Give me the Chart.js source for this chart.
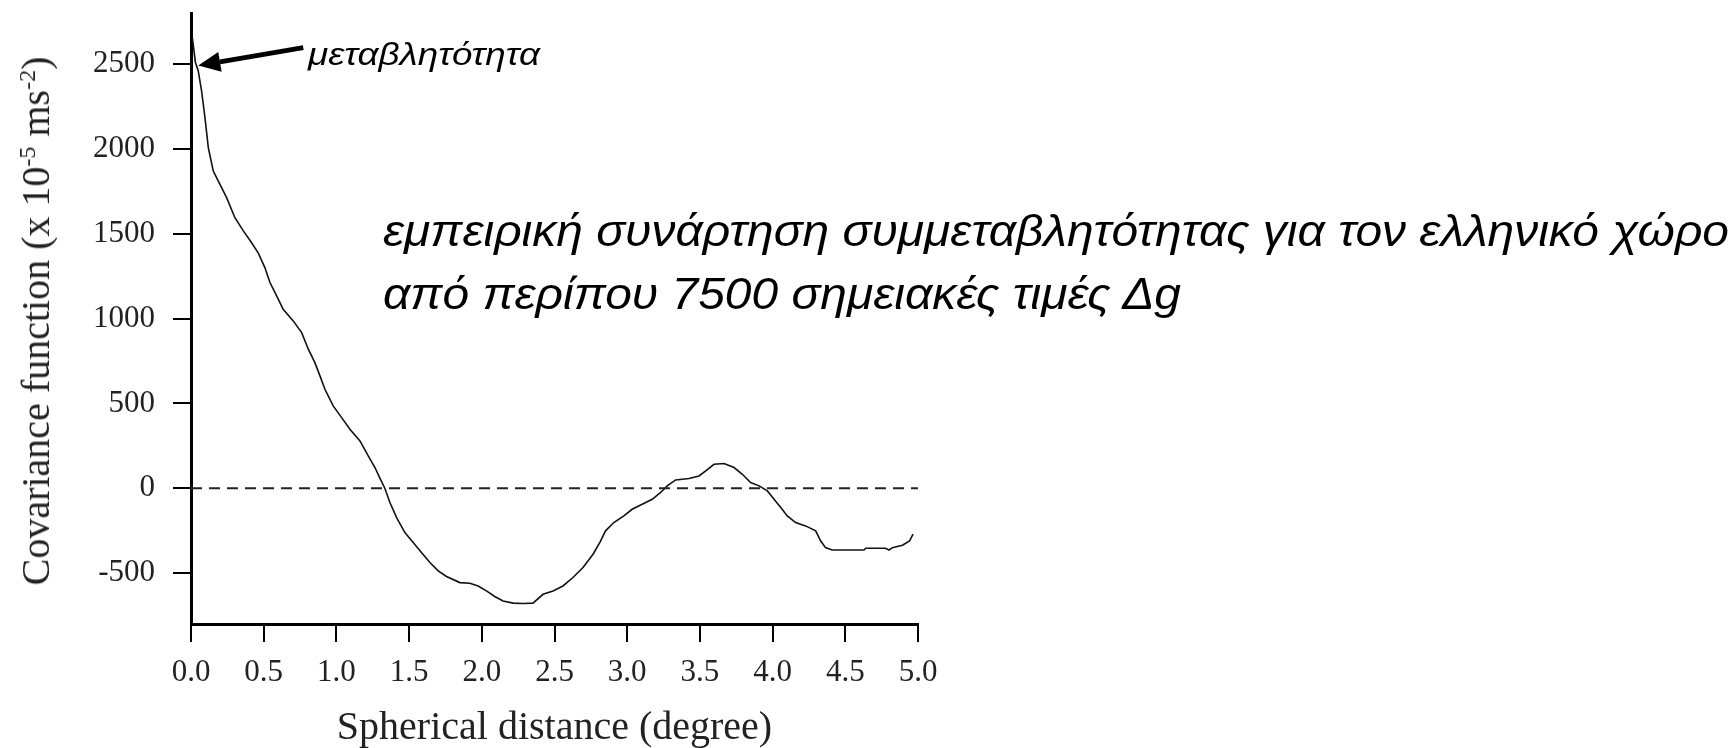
<!DOCTYPE html>
<html><head><meta charset="utf-8">
<script src="https://cdn.jsdelivr.net/npm/chart.js@4.4.1/dist/chart.umd.min.js"></script>
<style>
html,body{margin:0;padding:0;background:#fff;}
#wrap{position:relative;width:1735px;height:748px;overflow:hidden;background:#fff;}
#c{position:absolute;left:0;top:0;}
.ann{position:absolute;white-space:nowrap;font-family:'Liberation Sans',Arial,sans-serif;font-style:italic;color:#000;transform-origin:0 0;}
#ytitle{position:absolute;left:36px;top:321px;white-space:nowrap;font-family:'Liberation Serif','Times New Roman',serif;font-size:40px;line-height:1;color:#222;transform:translate(-50%,-50%) rotate(-90deg);}
#ytitle sup{font-size:24px;vertical-align:14px;line-height:0;}
</style></head>
<body>
<div id="wrap">
<canvas id="c" width="1735" height="748"></canvas>
<div id="ytitle">Covariance function (x 10<sup>-5</sup> ms<sup>-2</sup>)</div>
<div id="a1" class="ann" style="left:308px;top:38px;font-size:32px;line-height:32px;">μεταβλητότητα</div>
<div id="a2" class="ann" style="left:383px;top:199px;font-size:45px;line-height:63px;">εμπειρική συνάρτηση συμμεταβλητότητας για τον ελληνικό χώρο</div>
<div id="a3" class="ann" style="left:383px;top:262px;font-size:45px;line-height:63px;">από περίπου 7500 σημειακές τιμές Δg</div>
</div>
<script>
// ---- data ----
const distance = [0.01,0.03,0.05,0.073,0.096,0.119,0.153,0.188,0.245,0.302,0.36,0.41,0.463,0.508,0.543,0.589,0.634,0.703,0.761,0.807,0.852,0.887,0.921,0.978,1.036,1.093,1.162,1.219,1.265,1.299,1.333,1.368,1.414,1.471,1.528,1.585,1.643,1.700,1.757,1.849,1.918,1.975,2.032,2.089,2.146,2.215,2.284,2.352,2.421,2.490,2.558,2.627,2.696,2.765,2.815,2.851,2.908,2.977,3.034,3.103,3.172,3.23,3.275,3.333,3.426,3.494,3.54,3.597,3.666,3.735,3.792,3.849,3.907,3.964,4.01,4.056,4.101,4.158,4.227,4.296,4.330,4.364,4.410,4.525,4.629,4.64,4.777,4.801,4.824,4.893,4.942,4.966];
const covariance = [2650,2510,2458,2340,2183,2007,1869,1810,1712,1594,1516,1455,1385,1300,1212,1133,1054,986,917,819,740,662,583,485,416,348,279,190,122,60,0,-84,-173,-261,-320,-379,-438,-487,-520,-556,-560,-576,-605,-638,-664,-677,-679,-677,-625,-605,-576,-526,-467,-389,-315,-251,-202,-163,-124,-94,-65,-25,14,49,57,72,102,141,146,122,82,33,14,-16,-65,-114,-163,-202,-222,-251,-310,-350,-364,-364,-364,-354,-354,-364,-350,-336,-310,-271];
const zeroLineX = [0, 5];
const zeroLineY = [0, 0];
const xTicks = [0,0.5,1,1.5,2,2.5,3,3.5,4,4.5,5];
const xTickLabels = ['0.0','0.5','1.0','1.5','2.0','2.5','3.0','3.5','4.0','4.5','5.0'];
const yTicks = [-500,0,500,1000,1500,2000,2500];
const yTickLabels = ['-500','0','500','1000','1500','2000','2500'];
const xRange = [0, 5];
const yRange = [-800, 2800];
const arrowTarget = {x: 0.05, y: 2490};

const curvePts = distance.map((d,i)=>({x:d, y:covariance[i]}));
const zeroPts = zeroLineX.map((d,i)=>({x:d, y:zeroLineY[i]}));

const arrowPlugin = {
  id:'arrow',
  afterDatasetsDraw(chart){
    const ctx = chart.ctx, xs = chart.scales.x, ys = chart.scales.y;
    const tx = xs.getPixelForValue(arrowTarget.x), ty = ys.getPixelForValue(arrowTarget.y);
    const sx = tx + 105, sy = ty - 18;
    const ang = Math.atan2(ty - sy, tx - sx);
    const hl = 22, hw = 10;
    const bx = tx - hl*Math.cos(ang), by = ty - hl*Math.sin(ang);
    ctx.save();
    ctx.strokeStyle = '#000'; ctx.fillStyle = '#000';
    ctx.lineWidth = 5; ctx.lineCap = 'butt';
    ctx.beginPath(); ctx.moveTo(sx, sy); ctx.lineTo(bx, by); ctx.stroke();
    ctx.beginPath();
    ctx.moveTo(tx, ty);
    ctx.lineTo(bx + hw*Math.sin(ang), by - hw*Math.cos(ang));
    ctx.lineTo(bx - hw*Math.sin(ang), by + hw*Math.cos(ang));
    ctx.closePath(); ctx.fill();
    ctx.restore();
  }
};

const tickFont = {family:"'Liberation Serif','Times New Roman',serif", size:31, lineHeight:1};

new Chart(document.getElementById('c'), {
  type:'line',
  data:{datasets:[
    {data:zeroPts, borderColor:'#222', borderWidth:2, borderDash:[11,7], pointRadius:0, tension:0, fill:false},
    {data:curvePts, borderColor:'#111', borderWidth:1.6, pointRadius:0, tension:0, fill:false}
  ]},
  options:{
    responsive:false, animation:false, devicePixelRatio:1,
    layout:{padding:{left:0, top:13, right:817, bottom:0}},
    plugins:{legend:{display:false}, tooltip:{enabled:false}, title:{display:false}},
    scales:{
      x:{type:'linear', min:xRange[0], max:xRange[1],
        afterBuildTicks:s=>{ s.ticks = xTicks.map(v=>({value:v})); },
        afterFit:s=>{ s.height = 124; },
        ticks:{callback:v=>xTickLabels[xTicks.indexOf(v)], font:tickFont, color:'#222', padding:15, maxRotation:0, autoSkip:false},
        grid:{drawOnChartArea:false, drawTicks:true, tickLength:18, color:'#000', lineWidth:2},
        border:{display:true, color:'#000', width:3},
        title:{display:true, text:'Spherical distance (degree)', color:'#222',
          font:{family:"'Liberation Serif','Times New Roman',serif", size:40, lineHeight:1}, padding:{top:0,bottom:0}}
      },
      y:{type:'linear', min:yRange[0], max:yRange[1],
        afterBuildTicks:s=>{ s.ticks = yTicks.map(v=>({value:v})); },
        afterFit:s=>{ s.width = 191; s.paddingTop = 0; s.paddingBottom = 0; },
        ticks:{callback:v=>yTickLabels[yTicks.indexOf(v)], font:tickFont, color:'#222', padding:18, autoSkip:false},
        grid:{drawOnChartArea:false, drawTicks:true, tickLength:18, color:'#000', lineWidth:2},
        border:{display:true, color:'#000', width:3}
      }
    }
  },
  plugins:[arrowPlugin]
});

function fitText(){
  const a1 = document.getElementById('a1');
  a1.style.transform='none';
  a1.style.transform = 'scaleX(' + (232 / a1.getBoundingClientRect().width) + ')';
  const a2 = document.getElementById('a2'), a3 = document.getElementById('a3');
  a2.style.transform='none'; a3.style.transform='none';
  const k = 1346 / a2.getBoundingClientRect().width;
  a2.style.transform = 'scaleX(' + k + ')';
  a3.style.transform = 'scaleX(' + k + ')';
}
fitText();
if (document.fonts && document.fonts.ready) document.fonts.ready.then(fitText);
</script>
</body></html>
